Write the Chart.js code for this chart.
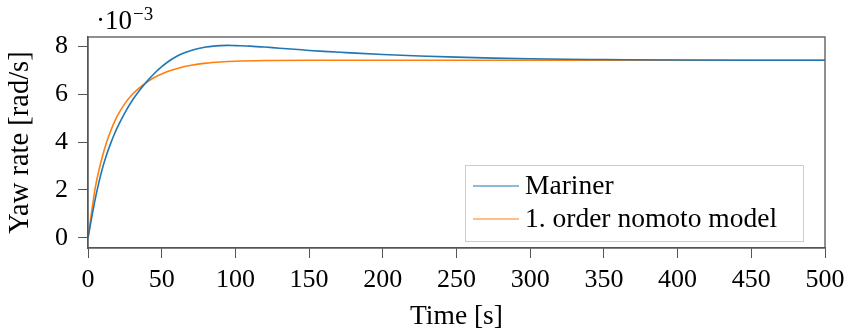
<!DOCTYPE html>
<html>
<head>
<meta charset="utf-8">
<script src="https://cdn.jsdelivr.net/npm/chart.js@4.4.0/dist/chart.umd.min.js"></script>
<style>
  html, body { margin: 0; padding: 0; background: #fff; }
  #wrap { width: 852px; height: 335px; }
</style>
</head>
<body>
<div id="wrap"><canvas id="chart"></canvas></div>
<script>
// time [s] and yaw rate [rad/s]
const timeMariner = [0, 2.5, 5, 7.5, 10, 12.5, 15, 17.5, 20, 25, 30, 35, 40, 45, 50, 55, 60, 65, 70, 75, 80, 85, 90, 95, 100,
  110, 120, 130, 140, 150, 160, 175, 200, 225, 250, 275, 300, 325, 350, 400, 450, 500];
const yawMariner = [0, 0.00085, 0.00165, 0.00235, 0.00295, 0.00345, 0.00388, 0.00427, 0.00462, 0.00522, 0.00573,
  0.00616, 0.00653, 0.00686, 0.00714, 0.00738, 0.00757, 0.00771, 0.00782, 0.0079, 0.00796, 0.008, 0.00802,
  0.00803, 0.00802, 0.008, 0.00796, 0.00791, 0.00787, 0.00782, 0.00778, 0.00773, 0.00765, 0.00759, 0.00754,
  0.0075, 0.00747, 0.00745, 0.00744, 0.00742, 0.00741, 0.00741];

const timeNomoto = [0, 2.5, 5, 7.5, 10, 12.5, 15, 17.5, 20, 25, 30, 35, 40, 45, 50, 55, 60, 70, 80, 90, 100, 120, 150, 200, 300, 400, 500];
const yawNomoto = [0, 0.0011, 0.00212, 0.00285, 0.00345, 0.00397, 0.0044, 0.00478, 0.0051, 0.0056, 0.00598,
  0.00627, 0.0065, 0.00669, 0.00684, 0.00696, 0.00706, 0.0072, 0.00729, 0.00734, 0.00737, 0.0074, 0.00741,
  0.00741, 0.00741, 0.00741, 0.00741];

const seriesNames = ["Mariner", "1. order nomoto model"];
const seriesColors = ["#1f77b4", "#ff7f0e"];
const xTicks = [0, 50, 100, 150, 200, 250, 300, 350, 400, 450, 500];
const yTicks = [0, 0.002, 0.004, 0.006, 0.008];

const FONT = "'Liberation Serif', 'Times New Roman', serif";
const AXIS = "#555";

const toPoints = (xs, ys) => xs.map((x, i) => ({ x: x, y: ys[i] }));

// box round the plot, the 10^-3 factor and the legend inside the plot
const decor = {
  id: "decor",
  afterDraw(chart) {
    const ctx = chart.ctx;
    const a = chart.chartArea;
    ctx.save();
    ctx.strokeStyle = AXIS;
    ctx.lineWidth = 1.3;
    ctx.strokeRect(a.left, a.top, a.right - a.left, a.bottom - a.top);

    ctx.fillStyle = "#000";
    ctx.textBaseline = "alphabetic";
    ctx.textAlign = "left";
    ctx.font = "27px " + FONT;
    ctx.fillText("\u00b710", 96, 29);
    const w = ctx.measureText("\u00b710").width;
    ctx.font = "19px " + FONT;
    ctx.fillText("\u22123", 96 + w + 1, 20);

    // legend
    const lx = 465, ly = 165, lw = 338, lh = 76;
    ctx.fillStyle = "#fff";
    ctx.fillRect(lx, ly, lw, lh);
    ctx.strokeStyle = "#cccccc";
    ctx.lineWidth = 1;
    ctx.strokeRect(lx + 0.5, ly + 0.5, lw, lh);
    ctx.font = "27.5px " + FONT;
    ctx.textBaseline = "middle";
    chart.data.datasets.forEach((ds, i) => {
      const y = ly + 21 + i * 33;
      ctx.strokeStyle = ds.borderColor;
      ctx.lineWidth = 1.2;
      ctx.beginPath();
      ctx.moveTo(lx + 8, y);
      ctx.lineTo(lx + 54, y);
      ctx.stroke();
      ctx.fillStyle = "#000";
      ctx.fillText(ds.label, lx + 60, y + 1);
    });
    ctx.restore();
  }
};

new Chart(document.getElementById("chart"), {
  type: "line",
  data: {
    datasets: [
      {
        label: seriesNames[0],
        data: toPoints(timeMariner, yawMariner),
        borderColor: seriesColors[0],
        borderWidth: 1.6,
        pointRadius: 0,
        cubicInterpolationMode: "monotone",
      },
      {
        label: seriesNames[1],
        data: toPoints(timeNomoto, yawNomoto),
        borderColor: seriesColors[1],
        borderWidth: 1.6,
        pointRadius: 0,
        cubicInterpolationMode: "monotone",
      },
    ],
  },
  options: {
    responsive: true,
    maintainAspectRatio: false,
    animation: false,
    layout: { padding: { top: 37, right: 27, left: 0, bottom: 0 } },
    plugins: {
      legend: { display: false },
      tooltip: { enabled: false },
    },
    scales: {
      x: {
        type: "linear",
        min: 0,
        max: 500,
        afterFit: (s) => { s.height = 87; s.paddingLeft = 0; s.paddingRight = 0; },
        afterBuildTicks: (s) => { s.ticks = xTicks.map((v) => ({ value: v })); },
        grid: { drawOnChartArea: false, tickLength: 10, color: AXIS, tickWidth: 1 },
        border: { color: AXIS, width: 1.3 },
        ticks: { color: "#000", padding: 9, maxRotation: 0, font: { family: FONT, size: 26, lineHeight: 1 } },
        title: {
          display: true,
          text: "Time [s]",
          color: "#000",
          font: { family: FONT, size: 27.5, lineHeight: 1.2 },
          padding: { top: 0, bottom: 2 },
        },
      },
      y: {
        type: "linear",
        min: -0.00042,
        max: 0.00838,
        afterFit: (s) => { s.width = 88; s.paddingTop = 0; s.paddingBottom = 0; },
        afterBuildTicks: (s) => { s.ticks = yTicks.map((v) => ({ value: v })); },
        grid: { drawOnChartArea: false, tickLength: 10, color: AXIS, tickWidth: 1 },
        border: { color: AXIS, width: 1.3 },
        ticks: {
          color: "#000",
          padding: 10,
          font: { family: FONT, size: 26, lineHeight: 1 },
          callback: (v) => String(Math.round(v * 1000)),
        },
        title: {
          display: true,
          text: "Yaw rate [rad/s]",
          color: "#000",
          font: { family: FONT, size: 28.5, lineHeight: 1.2 },
          padding: { top: 3, bottom: 0 },
        },
      },
    },
  },
  plugins: [decor],
});
</script>
</body>
</html>
